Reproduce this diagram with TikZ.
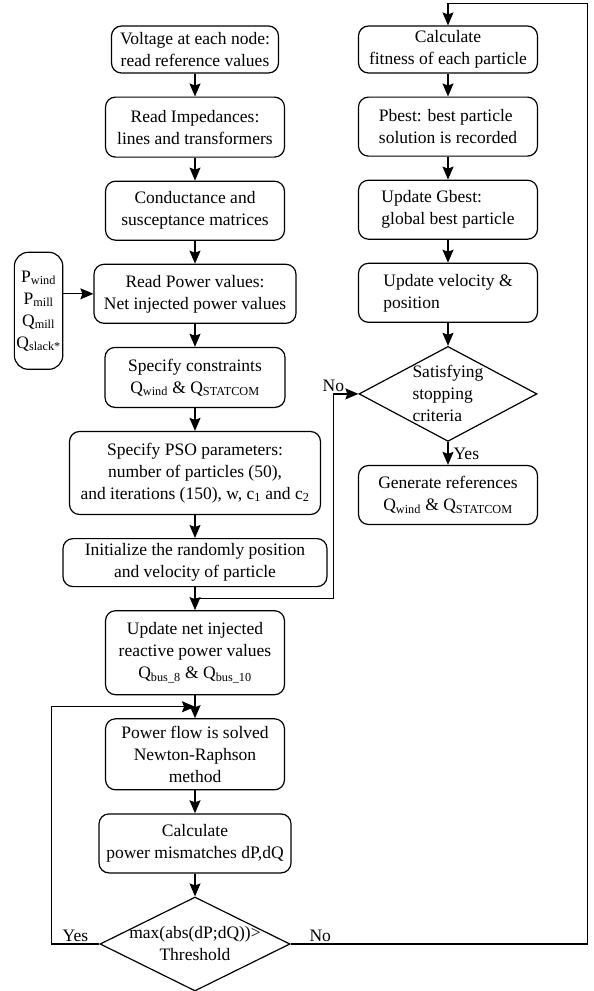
\documentclass[tikz,border=0pt]{standalone}
\usepackage{fontspec}
\setmainfont{Liberation Serif}
\usetikzlibrary{positioning, arrows.meta, shapes.geometric, calc}

\begin{document}
\begin{tikzpicture}[
    x=1pt, y=1pt,
    node distance=22.9pt,
    font=\fontsize{17.5}{22}\selectfont,
    box/.style={
        draw,
        line width=1.2pt,
        rounded corners=10pt,
        align=center,
        inner sep=4pt,
        minimum width=179pt,
        minimum height=59pt
    },
    decision/.style={
        draw,
        diamond,
        line width=1.2pt,
        inner sep=0pt
    },
    dtext/.style={align=center, inner sep=0pt},
    lbl/.style={inner sep=2pt},
    arrow/.style={-{Stealth[length=13pt, width=11pt, inset=2pt]}, line width=1.2pt}
]
\useasboundingbox (0,0) rectangle (594,-991);

% left column
\node[box, minimum width=167pt, minimum height=47pt] (volt) at (195,-49.5) {Voltage at each node:\\read reference values};
\node[box, minimum height=60pt] (imp) [below=of volt] {Read Impedances:\\lines and transformers};
\node[box] (cond) [below=of imp] {Conductance and\\susceptance matrices};
\node[box, minimum width=202pt] (pv) [below=of cond] {Read Power values:\\Net injected power values};
\node[box, minimum width=180pt, minimum height=60pt] (cons) [below=of pv] {Specify constraints\\Q\textsubscript{wind} \& Q\textsubscript{STATCOM}};
\node[box, minimum width=251pt, minimum height=83pt] (pso) [below=of cons] {Specify PSO parameters:\\number of particles (50),\\and iterations (150), w, c\textsubscript{1} and c\textsubscript{2}};
\node[box, minimum width=264pt, minimum height=48pt] (init) [below=of pso] {Initialize the randomly position\\and velocity of particle};
\node[box, minimum height=84pt] (upd) [below=of init] {Update net injected\\reactive power values\\Q\textsubscript{bus\_8} \& Q\textsubscript{bus\_10}};
\node[box, minimum height=71pt] (pf) [below=of upd] {Power flow is solved\\Newton-Raphson\\method};
\node[box, minimum width=192pt] (mis) [below=of pf] {Calculate\\power mismatches dP,dQ};
\node[decision, aspect=2.02, minimum width=190pt, minimum height=94pt] (chk) [below=of mis] {};
\node[dtext] (chktxt) at (chk) {max(abs(dP;dQ))>\\Threshold};

% measured inputs
\node[box, rounded corners=14pt, inner sep=2pt, minimum width=47pt, minimum height=117pt] (meas) [left=30pt of pv, yshift=-17pt] {P\textsubscript{wind}\\P\textsubscript{mill}\\Q\textsubscript{mill}\\Q\textsubscript{slack*}};

% right column
\node[box, minimum height=47pt] (fit) at (448,-49.5) {Calculate\\fitness of each particle};
\node[box, align=left] (pb) [below=of fit] {Pbest: best particle\\solution is recorded};
\node[box, align=left] (gb) [below=of pb] {Update Gbest:\\global best particle};
\node[box, align=left] (vel) [below=of gb] {Update velocity \&\\position};
\node[decision, aspect=1.87, minimum width=178pt, minimum height=95pt] (sat) [below=of vel] {};
\node[dtext, align=left] (sattxt) at (sat) {Satisfying\\stopping\\criteria};
\node[box] (gen) [below=of sat] {Generate references\\Q\textsubscript{wind} \& Q\textsubscript{STATCOM}};

\draw[arrow] (volt) -- (imp);
\draw[arrow] (imp) -- (cond);
\draw[arrow] (cond) -- (pv);
\draw[arrow] (meas.east |- pv.west) -- (pv.west);
\draw[arrow] (pv) -- (cons);
\draw[arrow] (cons) -- (pso);
\draw[arrow] (pso) -- (init);
\draw[arrow] (init) -- (upd);
\draw[arrow] (upd) -- (pf);
\draw[arrow] (pf) -- (mis);
\draw[arrow] (mis) -- (chk);

\draw[arrow] (fit) -- (pb);
\draw[arrow] (pb) -- (gb);
\draw[arrow] (gb) -- (vel);
\draw[arrow] (vel) -- (sat);
\draw[arrow] (sat) -- node[lbl, right=3pt] (yes2) {Yes} (gen);

% loops
\draw[arrow] (chk.west) -- node[lbl, above] (yes1) {Yes} ++(-48,0) |- ($(upd.south)!.5!(pf.north)$);
\draw[arrow] (chk.east) -- node[lbl, above, pos=0.1] (no1) {No} ++(297,0) |- ($(fit.north)+(0,22)$) -- (fit.north);
\draw[arrow] ($(init.south)!.5!(upd.north)$) -| ($(sat.west)+(-25,0)$) node[lbl, above] (no2) {No} -- (sat.west);

\end{tikzpicture}
\end{document}
